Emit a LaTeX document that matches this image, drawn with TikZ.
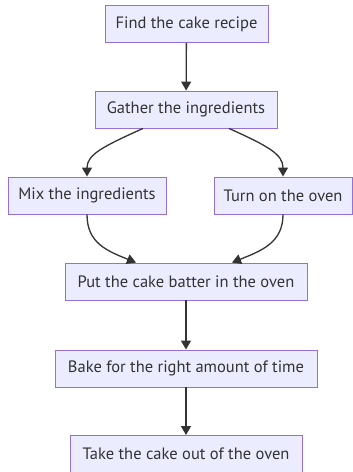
\documentclass[tikz,border=0pt]{standalone}
\usepackage{fontspec}
\setmainfont{PT Sans}
\usetikzlibrary{arrows.meta}
\definecolor{mmfill}{HTML}{ECECFF}
\definecolor{mmborder}{HTML}{9370DB}
\definecolor{mmline}{HTML}{333333}
\tikzset{
  stepbox/.style={draw=mmborder, fill=mmfill, line width=0.9pt, minimum height=37pt,
    inner sep=0pt, font=\fontsize{16.5pt}{19pt}\selectfont, text=mmline},
  flow/.style={draw=mmline, line width=1.3pt, -{Triangle[length=9pt,width=10pt]}}
}
\begin{document}
\begin{tikzpicture}[x=1pt,y=-1pt]
\useasboundingbox (0,0) rectangle (353,472);
% Steps
\node[stepbox, minimum width=163pt] (recipe) at (186.5,24) {Find the cake recipe};
\node[stepbox, minimum width=182pt] (gather) at (186,109.5) {Gather the ingredients};
\node[stepbox, minimum width=158pt] (mix) at (87,195.5) {Mix the ingredients};
\node[stepbox, minimum width=138pt] (oven) at (283,195.5) {Turn on the oven};
\node[stepbox, minimum width=242pt] (batter) at (186,281.5) {Put the cake batter in the oven};
\node[stepbox, minimum width=262pt] (bake) at (186,368.5) {Bake for the right amount of time};
\node[stepbox, minimum width=232pt] (take) at (186,454) {Take the cake out of the oven};

% Straight links
\draw[flow] (recipe) -- (gather);
\draw[flow] (batter) -- (bake);
\draw[flow] (bake) -- (take);

% Curved links
\draw[flow] (gather.south) ++(-43,0) .. controls +(-40,18) and +(0,-22) .. (mix.north);
\draw[flow] (gather.south) ++(43,0) .. controls +(40,18) and +(0,-22) .. (oven.north);
\draw[flow] (mix.south) .. controls +(0,28) and +(-30,-12) .. ([xshift=-50]batter.north);
\draw[flow] (oven.south) .. controls +(0,28) and +(30,-12) .. ([xshift=46]batter.north);
\end{tikzpicture}
\end{document}
